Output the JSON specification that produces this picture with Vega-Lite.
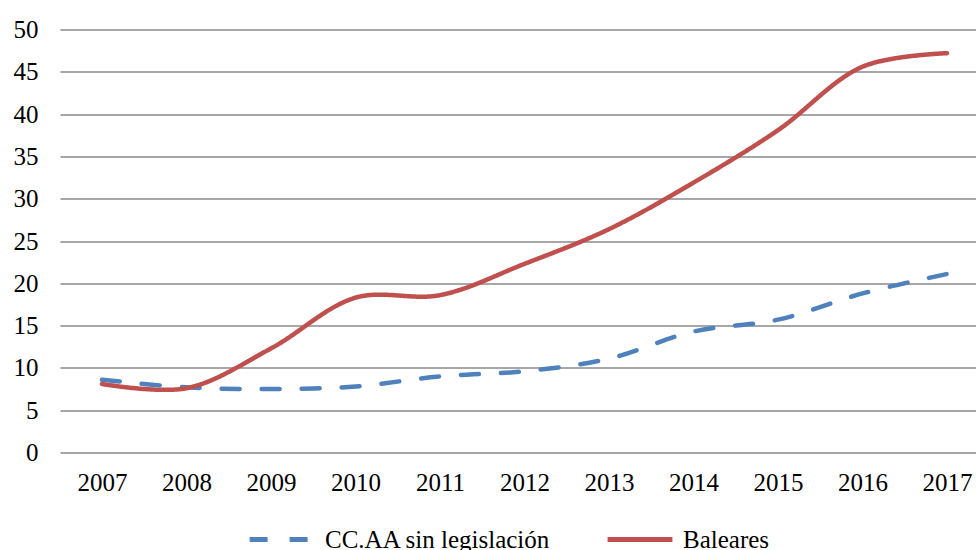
{
  "$schema": "https://vega.github.io/schema/vega-lite/v6.json",
  "width": 916,
  "height": 423,
  "autosize": {"type": "none"},
  "padding": {"left": 60, "top": 29.5, "right": 0, "bottom": 97.5},
  "background": "white",
  "config": {
    "view": {"stroke": null},
    "font": "Liberation Serif",
    "axis": {"labelFont": "Liberation Serif", "labelFontSize": 25, "labelColor": "#000000"},
    "legend": {"labelFont": "Liberation Serif", "labelFontSize": 25, "labelColor": "#000000"}
  },
  "data": {
    "values": [
      {"year": 2007, "serie": "CC.AA sin legislación", "value": 8.6},
      {"year": 2008, "serie": "CC.AA sin legislación", "value": 7.7},
      {"year": 2009, "serie": "CC.AA sin legislación", "value": 7.5},
      {"year": 2010, "serie": "CC.AA sin legislación", "value": 7.8},
      {"year": 2011, "serie": "CC.AA sin legislación", "value": 9.0},
      {"year": 2012, "serie": "CC.AA sin legislación", "value": 9.6},
      {"year": 2013, "serie": "CC.AA sin legislación", "value": 11.1},
      {"year": 2014, "serie": "CC.AA sin legislación", "value": 14.3},
      {"year": 2015, "serie": "CC.AA sin legislación", "value": 15.7},
      {"year": 2016, "serie": "CC.AA sin legislación", "value": 18.8},
      {"year": 2017, "serie": "CC.AA sin legislación", "value": 21.1},
      {"year": 2007, "serie": "Baleares", "value": 8.1},
      {"year": 2008, "serie": "Baleares", "value": 7.6},
      {"year": 2009, "serie": "Baleares", "value": 12.3},
      {"year": 2010, "serie": "Baleares", "value": 18.3},
      {"year": 2011, "serie": "Baleares", "value": 18.6},
      {"year": 2012, "serie": "Baleares", "value": 22.3},
      {"year": 2013, "serie": "Baleares", "value": 26.4},
      {"year": 2014, "serie": "Baleares", "value": 31.9},
      {"year": 2015, "serie": "Baleares", "value": 38.1},
      {"year": 2016, "serie": "Baleares", "value": 45.6},
      {"year": 2017, "serie": "Baleares", "value": 47.2}
    ]
  },
  "mark": {"type": "line", "interpolate": "catmull-rom", "strokeWidth": 4.5, "strokeCap": "round"},
  "encoding": {
    "x": {
      "field": "year",
      "type": "quantitative",
      "scale": {"domain": [2006.503, 2017.343], "nice": false, "zero": false},
      "axis": {
        "title": null,
        "values": [2007, 2008, 2009, 2010, 2011, 2012, 2013, 2014, 2015, 2016, 2017],
        "format": "d",
        "grid": false,
        "domain": false,
        "ticks": false,
        "labelPadding": 18,
        "labelFlush": false
      }
    },
    "y": {
      "field": "value",
      "type": "quantitative",
      "scale": {"domain": [0, 50], "nice": false},
      "axis": {
        "title": null,
        "values": [0, 5, 10, 15, 20, 25, 30, 35, 40, 45, 50],
        "grid": true,
        "gridColor": "#8a8a8a",
        "gridWidth": 1.5,
        "domain": false,
        "ticks": false,
        "labelPadding": 22
      }
    },
    "color": {
      "field": "serie",
      "type": "nominal",
      "scale": {"domain": ["CC.AA sin legislación", "Baleares"], "range": ["#4F81BD", "#C0504D"]},
      "legend": {
        "title": null,
        "orient": "none",
        "direction": "horizontal",
        "legendX": 187,
        "legendY": 475,
        "symbolType": "stroke",
        "symbolSize": 4200,
        "symbolStrokeWidth": 5,
        "labelOffset": 8,
        "columnPadding": 46,
        "labelLimit": 400,
        "padding": 0
      }
    },
    "strokeDash": {
      "field": "serie",
      "type": "nominal",
      "scale": {"domain": ["CC.AA sin legislación", "Baleares"], "range": [[18, 22], [1, 0]]},
      "legend": null
    }
  }
}
